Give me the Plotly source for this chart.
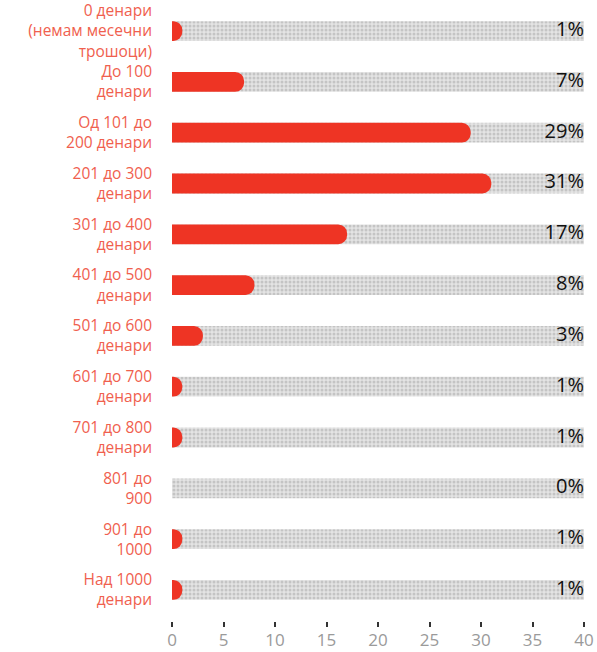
import plotly.graph_objects as go

categories = [
    "0 денари<br>(немам месечни<br>трошоци)",
    "До 100<br>денари",
    "Од 101 до<br>200 денари",
    "201 до 300<br>денари",
    "301 до 400<br>денари",
    "401 до 500<br>денари",
    "501 до 600<br>денари",
    "601 до 700<br>денари",
    "701 до 800<br>денари",
    "801 до<br>900",
    "901 до<br>1000",
    "Над 1000<br>денари",
]
values = [1, 7, 29, 31, 17, 8, 3, 1, 1, 0, 1, 1]
axis_max = 40
tick_vals = [0, 5, 10, 15, 20, 25, 30, 35, 40]

RED = "#ee3424"
LABEL = "#f0604e"
FONT = "Open Sans"

fig = go.Figure()
# grey textured track (base y axis)
fig.add_trace(go.Bar(
    y=categories, x=[axis_max] * len(categories), orientation="h",
    yaxis="y",
    marker=dict(color="#e4e4e4", line=dict(width=0), cornerradius=0,
                pattern=dict(shape=".", fgcolor="#c4c4c4", bgcolor="#e4e4e4",
                             size=4, solidity=0.45, fillmode="replace")),
    width=0.39, hoverinfo="skip", showlegend=False,
))
# red value bars (overlaying axis, drawn on top)
fig.add_trace(go.Bar(
    y=categories, x=values, orientation="h", yaxis="y2",
    marker=dict(color=RED, line=dict(width=0), cornerradius=10),
    width=0.39, showlegend=False,
))
fig.add_trace(go.Scatter(
    y=categories, x=[axis_max] * len(categories), mode="text", yaxis="y2",
    text=[f"{v}%" for v in values], textposition="middle left",
    textfont=dict(family=FONT, size=20, color="#111111"),
    hoverinfo="skip", showlegend=False, cliponaxis=False,
))

fig.update_layout(
    width=597, height=652,
    margin=dict(l=172, r=13, t=0, b=31, autoexpand=False),
    paper_bgcolor="white", plot_bgcolor="white",
    font=dict(family=FONT),
    yaxis=dict(
        type="category", categoryorder="array", categoryarray=categories,
        autorange="reversed", automargin=False,
        showgrid=False, zeroline=False, showline=False, ticks="",
        tickfont=dict(family=FONT, size=15.5, color=LABEL),
        ticklabelstandoff=19,
    ),
    yaxis2=dict(
        type="category", categoryorder="array", categoryarray=categories,
        overlaying="y", matches="y", autorange="reversed",
        showticklabels=False, showgrid=False, zeroline=False, showline=False,
    ),
)
fig.update_xaxes(
    range=[0, axis_max], tickvals=tick_vals, automargin=False,
    showgrid=False, zeroline=False, showline=False,
    ticks="outside", ticklen=5, tickwidth=1.5, tickcolor="#333333",
    tickfont=dict(family=FONT, size=17, color="#9a9a9a"),
    ticklabelstandoff=-1,
)
fig.write_html("out.html", config={"displayModeBar": False},
               post_script="document.body.style.margin='0px';")
